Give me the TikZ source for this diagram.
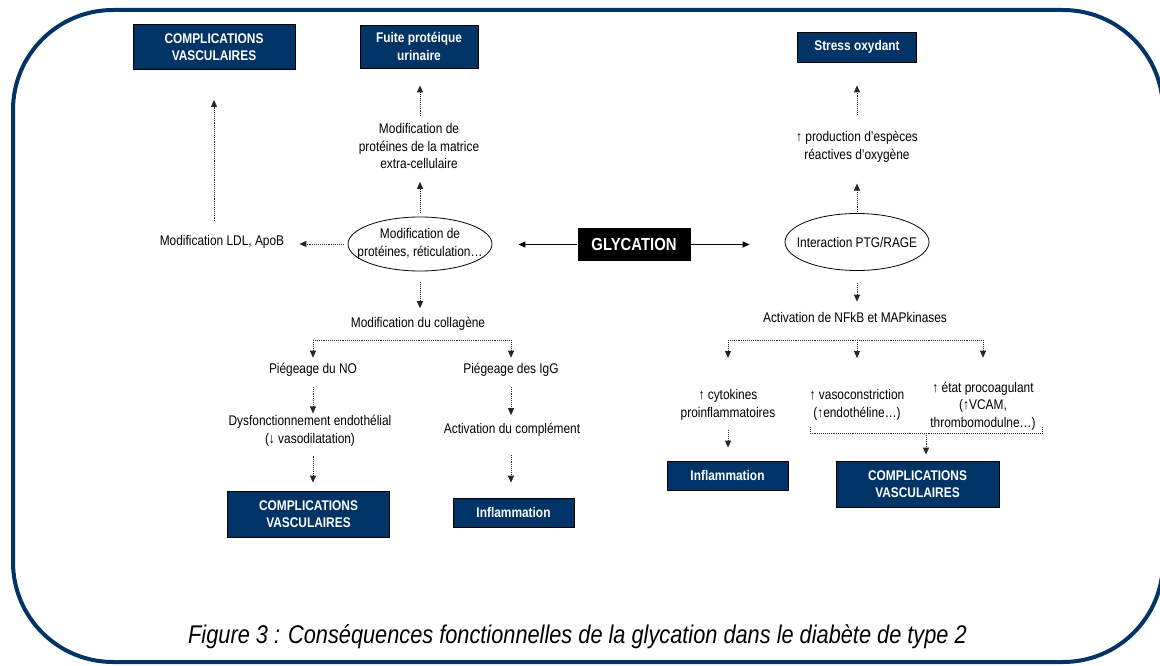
\documentclass[tikz,border=0pt]{standalone}
\usepackage{fontspec}
\setmainfont{Liberation Sans}[FakeStretch=0.85]
\usetikzlibrary{arrows.meta,shapes.geometric}
\definecolor{Navy}{HTML}{003366}
\tikzset{
 txt/.style={font=\fontsize{14}{17.5}\selectfont, align=center, inner sep=0pt},
 darkbox/.style={draw=black, fill=Navy, text=white, line width=0.8pt, inner sep=0pt, align=center, font=\fontsize{14}{17.5}\selectfont\bfseries},
 glycbox/.style={fill=black, text=white, inner sep=0pt, minimum width=113pt, minimum height=33pt, font=\fontsize{17.5}{20}\selectfont\bfseries},
 oval/.style={txt, draw, ellipse, line width=0.8pt, inner xsep=-20pt, inner ysep=0pt},
 dotline/.style={densely dotted, line width=0.9pt, draw=black!85},
 dotarrow/.style={dotline, -{Triangle[length=7pt,width=6pt]}},
 solidarrow/.style={-{Triangle[length=7pt,width=6pt]}, line width=1.2pt}
}
\begin{document}
\begin{tikzpicture}[x=1pt,y=-1pt]
\useasboundingbox (0,0) rectangle (1160,666);
\draw[Navy, line width=4pt, rounded corners=100pt] (13,10) rectangle (1163,662);

% top row
\node[darkbox, minimum width=162pt, minimum height=45pt] (cvtop) at (214,47) {COMPLICATIONS\\VASCULAIRES};
\node[darkbox, minimum width=118pt, minimum height=43pt] (fuite) at (419,46.5) {Fuite protéique\\urinaire};
\node[darkbox, minimum width=119pt, minimum height=30pt] (stress) at (857,47) {Stress oxydant};

% centre
\node[glycbox] (glyc) at (634,244.5) {GLYCATION};
\node[oval, minimum width=144pt, minimum height=54pt] (modprot) at (420,244) {Modification de\\protéines, réticulation…};
\node[oval, minimum width=144pt, minimum height=57pt] (rage) at (857,242) {Interaction PTG/RAGE};
\node[txt] (ldl) at (222,242) {Modification LDL, ApoB};
\node[txt] (matrice) at (419,146) {Modification de\\protéines de la matrice\\extra-cellulaire};
\node[txt] (ros) at (857,147) {↑ production d’espèces\\réactives d’oxygène};

% lower left
\node[txt] (collagene) at (418,324) {Modification du collagène};
\node[txt] (pno) at (313,370) {Piégeage du NO};
\node[txt] (pigg) at (511,370) {Piégeage des IgG};
\node[txt] (dysf) at (310,431) {Dysfonctionnement endothélial\\(↓ vasodilatation)};
\node[txt] (activ) at (512,430) {Activation du complément};
\node[darkbox, minimum width=162pt, minimum height=46pt] (cvleft) at (308.5,514) {COMPLICATIONS\\VASCULAIRES};
\node[darkbox, minimum width=121pt, minimum height=29pt] (inflleft) at (513.5,512.5) {Inflammation};

% lower right
\node[txt] (nfkb) at (855,317) {Activation de NFkB et MAPkinases};
\node[txt] (cyto) at (728,405) {↑ cytokines\\proinflammatoires};
\node[txt] (vaso) at (857,405) {↑ vasoconstriction\\(↑endothéline…)};
\node[txt] (procoag) at (983,406) {↑ état procoagulant\\(↑VCAM,\\thrombomodulne…)};
\node[darkbox, minimum width=121pt, minimum height=29pt] (inflright) at (727.5,475.5) {Inflammation};
\node[darkbox, minimum width=163pt, minimum height=46pt] (cvright) at (917.5,484) {COMPLICATIONS\\VASCULAIRES};

\node[font=\fontsize{25.6}{30}\selectfont\itshape] (caption) at (577.5,637) {Figure 3 : Conséquences fonctionnelles de la glycation dans le diabète de type 2};

% connectors
\draw[solidarrow, shorten >=26pt] (glyc.west) -- (glyc.west -| modprot.east);
\draw[solidarrow, shorten >=35pt] (glyc.east) -- (glyc.east -| rage.west);
\draw[dotarrow, shorten <=4pt, shorten >=15pt] (modprot.west) -- (modprot.west -| ldl.east);
\draw[dotarrow, shorten <=14pt, shorten >=30pt] (cvtop.south |- ldl.north) -- (cvtop.south);
\draw[dotarrow, shorten <=4pt, shorten >=13pt] (modprot.north) -- (modprot.north |- matrice.south);
\draw[dotarrow, shorten <=7pt, shorten >=17pt] (matrice.north -| modprot.north) -- (modprot.north |- fuite.south);
\draw[dotarrow, shorten <=11pt, shorten >=9pt] (modprot.south) -- (modprot.south |- collagene.north);
\draw[dotarrow, shorten <=1pt, shorten >=21pt] (rage.north) -- (ros.south);
\draw[dotarrow, shorten <=17pt, shorten >=23pt] (ros.north) -- (stress.south);
\draw[dotarrow, shorten <=12pt, shorten >=10pt] (rage.south) -- (rage.south |- nfkb.north);

\coordinate (colL) at (313,340);
\coordinate (colR) at (511,340);
\draw[dotline] (colL) -- (colR);
\foreach \n in {pno,pigg}
  \draw[dotarrow, shorten >=5.5pt] (\n.north |- colL) -- (\n.north);
\draw[dotarrow, shorten <=10pt, shorten >=2pt] (pno.south) -- (pno.south |- dysf.north);
\draw[dotarrow, shorten <=9pt, shorten >=8pt] (pno.south |- dysf.south) -- (pno.south |- cvleft.north);
\draw[dotarrow, shorten <=10pt, shorten >=8pt] (pigg.south) -- (pigg.south |- activ.north);
\draw[dotarrow, shorten <=18pt, shorten >=15pt] (activ.south -| pigg.south) -- (pigg.south |- inflleft.north);

\coordinate (nfL) at (728,340);
\coordinate (nfR) at (983,340);
\draw[dotline] (nfL) -- (nfR);
\foreach \n/\s in {cyto/31.5,vaso/31.5,procoag/24}
  \draw[dotarrow, shorten >=\s pt] (\n.north |- nfL) -- (\n.north);
\draw[dotarrow, shorten <=10pt, shorten >=13pt] (cyto.south) -- (cyto.south |- inflright.north);

\coordinate (brL) at (810,433);
\coordinate (brR) at (1042,433);
\coordinate (brM) at (926,433);
\draw[dotline] (brL) ++(0,-6) -- (brL) -- (brR) -- ++(0,-6);
\draw[dotarrow, shorten >=6pt] (brM) -- (brM |- cvright.north);
\end{tikzpicture}
\end{document}
